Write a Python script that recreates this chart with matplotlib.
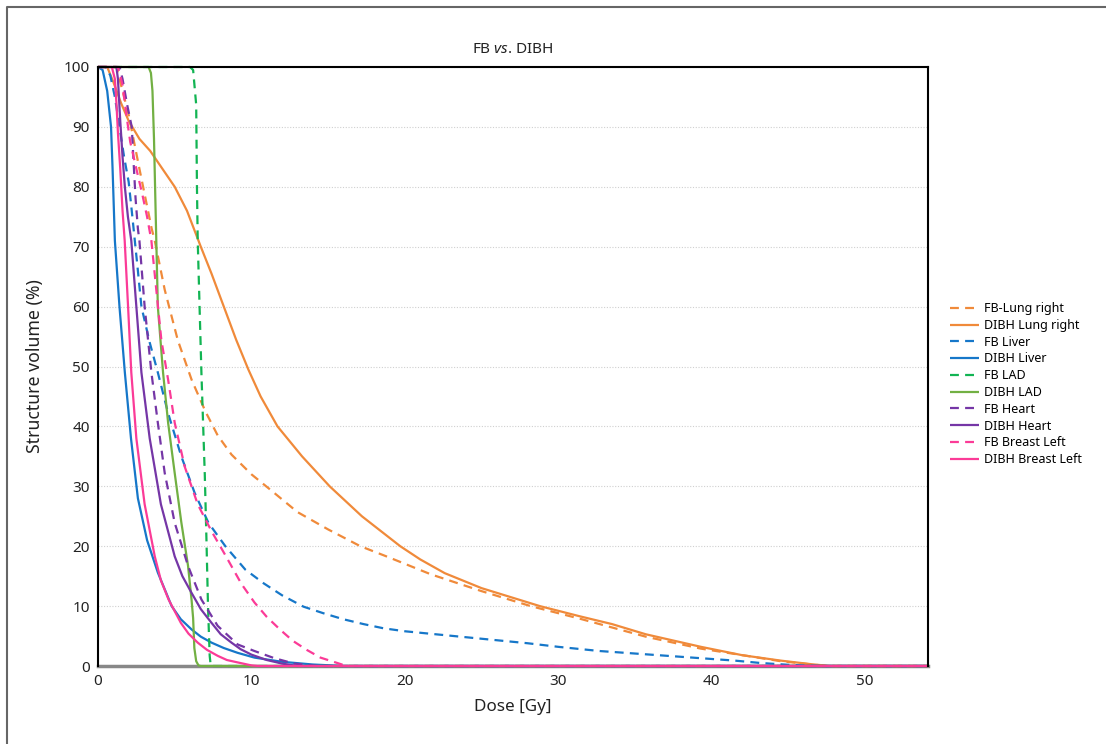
import matplotlib.pyplot as plt
from matplotlib.lines import Line2D
import numpy as np

plt.rcParams['font.family'] = ['Noto Sans', 'DejaVu Sans']
plt.rcParams['mathtext.fontset'] = 'custom'
plt.rcParams['mathtext.it'] = 'Noto Sans:italic'

# dose (Gy) / volume (%) pairs
fb_lung_d = [0, 1.2, 1.6, 2.0, 2.7, 3.1, 3.5, 3.7, 4.35, 5.2, 6.1, 7.0, 7.8, 8.7, 10, 11.2, 13, 15, 17.1, 18.9,
             21.7, 25, 28.2, 31.4, 35.7, 39.3, 44.5, 47.5, 54.1]
fb_lung_v = [100, 100, 96, 92, 83, 78, 73, 71, 62.8, 54.4, 47.8, 42.5, 38.5, 35.3, 32, 29.5, 25.7, 22.8, 20, 18.2,
             15.3, 12.5, 10, 7.9, 4.9, 2.9, 0.8, 0, 0]
dibh_lung_d = [0, 0.6, 1.0, 1.5, 2.0, 2.7, 3.4, 4.2, 5.0, 5.8, 6.7, 7.4, 8.2, 9.0, 9.8, 10.6, 11.7, 13.3, 15.1,
               17.2, 19.7, 21.0, 22.6, 25, 28.8, 31.4, 33.5, 35.7, 39.3, 42, 44.5, 46.5, 47.7, 54.1]
dibh_lung_v = [100, 100, 97.5, 94, 91, 88, 86, 83, 80, 76, 70, 65.5, 60, 54.5, 49.5, 45, 40, 35, 30,
               25, 20, 17.8, 15.5, 13, 10, 8.3, 7, 5.3, 3.2, 1.8, 0.9, 0.3, 0, 0]

fb_liver_d = [0, 0.5, 0.8, 1.1, 1.4, 1.7, 2.0, 2.2, 2.4, 2.6, 2.83, 3.37, 3.9, 4.57, 5.43, 6.3, 7.2, 8.3, 9.6,
              10.8, 12, 13.4, 14.7, 16, 17.3, 18.6, 20, 22, 24, 26, 28, 30, 32.7, 36, 39.3, 41.5,
              43.2, 45, 46.5, 47.5, 54.1]
fb_liver_v = [100, 100, 98.6, 95, 90, 85, 80.8, 76, 71, 66, 60, 54, 49, 42.2, 35, 28.9, 23.9, 20, 16.1,
              13.8, 11.8, 9.9, 8.8, 7.8, 7, 6.3, 5.8, 5.3, 4.8, 4.3, 3.8, 3.2, 2.5, 1.9, 1.3, 0.9,
              0.5, 0.2, 0.05, 0, 0]
dibh_liver_d = [0, 0.3, 0.6, 0.85, 0.95, 1.1, 1.4, 1.75, 2.15, 2.6, 3.2, 3.9, 4.8, 5.4, 6.1, 6.7, 7.4, 8.2, 9.1,
                10.2, 12, 14, 16, 54.1]
dibh_liver_v = [100, 99.5, 96, 90, 83, 71, 60, 49, 38, 28, 21, 15.6, 10, 7.8, 6.1, 4.9, 3.9, 3.0, 2.2,
                1.4, 0.7, 0.25, 0, 0]

fb_lad_d = [0, 6.0, 6.2, 6.4, 6.45, 6.5, 6.74, 6.96, 7.07, 7.17, 7.28, 7.35, 54.1]
fb_lad_v = [100, 100, 99.5, 93.7, 80, 71, 49, 32, 21, 10, 1.7, 0, 0]
dibh_lad_d = [0, 3.3, 3.45, 3.55, 3.65, 3.72, 3.8, 3.9, 4.24, 4.57, 5.0, 5.43, 5.87, 6.1, 6.2, 6.28, 6.4,
              6.55, 6.7, 54.1]
dibh_lad_v = [100, 100, 99, 96, 88, 80, 71, 60, 49, 40.6, 32.2, 24, 16.7, 11, 8, 3, 0.8, 0.1, 0, 0]

fb_heart_d = [0, 1.4, 1.6, 1.9, 2.2, 2.3, 2.45, 2.6, 2.7, 3.04, 3.48, 3.9, 4.35, 5.0, 5.87, 6.74, 7.8, 9.1,
              10.2, 11.5, 12.8, 14.3, 54.1]
fb_heart_v = [100, 100, 98, 93.7, 90, 85, 78, 73, 71, 60, 49, 40.6, 32.2, 23.9, 16.7, 11.1, 6.7, 3.6,
              2.5, 1.3, 0.4, 0, 0]
dibh_heart_d = [0, 1.2, 1.3, 1.45, 1.6, 1.75, 1.95, 2.17, 2.5, 2.83, 3.37, 4.1, 5.0, 5.5, 6.1, 6.7, 7.4, 8.0,
                8.7, 9.3, 10, 11, 12, 13, 54.1]
dibh_heart_v = [100, 100, 98, 91, 85, 80, 75, 71, 60, 49, 38, 27, 18.3, 15, 12.2, 9.5, 7.2, 5.3,
                3.9, 2.8, 1.9, 1.0, 0.4, 0, 0]

fb_breast_d = [0, 1.3, 1.6, 1.85, 2.1, 2.5, 2.9, 3.2, 3.48, 3.8, 4.13, 4.57, 5.0, 5.65, 6.5, 7.4, 8.3, 9.35,
               10.2, 11, 11.9, 12.7, 13.6, 14.5, 15.6, 16.2, 54.1]
fb_breast_v = [100, 100, 97, 92, 87.5, 83, 78.6, 75, 71, 62.8, 54.4, 47.8, 40.6, 33.3, 27, 22.5, 18.5, 13.7,
               10.6, 8.2, 6, 4.2, 2.7, 1.4, 0.5, 0, 0]
dibh_breast_d = [0, 0.9, 1.1, 1.2, 1.3, 1.45, 1.6, 1.74, 1.96, 2.17, 2.5, 3.04, 3.7, 4.1, 4.6, 5.4, 5.9,
                 6.5, 7.1, 7.8, 8.4, 9.1, 10, 10.5, 54.1]
dibh_breast_v = [100, 100, 98, 94, 89, 83, 76, 71, 60, 49, 38, 27, 18.3, 14.3, 11.1, 7.2, 5.4,
                 3.9, 2.7, 1.7, 1.0, 0.6, 0.1, 0, 0]

series = [
    ('FB-Lung right', fb_lung_d, fb_lung_v, '#F08A3A', True),
    ('DIBH Lung right', dibh_lung_d, dibh_lung_v, '#F08A3A', False),
    ('FB Liver', fb_liver_d, fb_liver_v, '#1677C9', True),
    ('DIBH Liver', dibh_liver_d, dibh_liver_v, '#1677C9', False),
    ('FB LAD', fb_lad_d, fb_lad_v, '#12B453', True),
    ('DIBH LAD', dibh_lad_d, dibh_lad_v, '#72B043', False),
    ('FB Heart', fb_heart_d, fb_heart_v, '#7536A6', True),
    ('DIBH Heart', dibh_heart_d, dibh_heart_v, '#7536A6', False),
    ('FB Breast Left', fb_breast_d, fb_breast_v, '#FB3B97', True),
    ('DIBH Breast Left', dibh_breast_d, dibh_breast_v, '#FB3B97', False),
]

fig = plt.figure(figsize=(11.06, 7.44), dpi=100)
ax = fig.add_axes([98 / 1106, 1 - 666 / 744, 830 / 1106, 599 / 744])

for label, d, v, col, dashed in series:
    ls = (0, (4, 2.8)) if dashed else '-'
    ax.plot(d, v, color=col, lw=1.6, ls=ls, label=label, clip_on=False,
            solid_capstyle='butt', dash_capstyle='butt', solid_joinstyle='round')

ax.set_xlim(0, 54.1)
ax.set_ylim(0, 100)
ax.set_xticks(np.arange(0, 51, 10))
ax.set_yticks(np.arange(0, 101, 10))
ax.tick_params(length=0, labelsize=11, pad=6, colors='#222222')
ax.grid(axis='y', ls=(0, (1, 1.5)), color='#d0d0d0', lw=0.8)
ax.set_axisbelow(True)

for s in ['left', 'top', 'right']:
    ax.spines[s].set_color('black')
    ax.spines[s].set_linewidth(1.5)
ax.spines['bottom'].set_color('#888888')
ax.spines['bottom'].set_linewidth(2.5)
ax.spines['bottom'].set_zorder(1)

ax.set_xlabel('Dose [Gy]', fontsize=12.3, labelpad=7, color='#222222')
ax.set_ylabel('Structure volume (%)', fontsize=12.7, color='#222222')
ax.yaxis.set_label_coords((44 - 98) / 830, 0.5)
ax.set_title(r'FB $\it{vs}$. DIBH', fontsize=11, pad=10, color='#222222')

ax.legend(loc='upper left', bbox_to_anchor=(944 / 1106, 1 - 296 / 744),
          bbox_transform=fig.transFigure, frameon=False, fontsize=9,
          handlelength=2.3, handletextpad=0.4, labelspacing=0.3, borderpad=0)

# outer frame (left and top edges)
fig.add_artist(Line2D([7 / 1106, 7 / 1106, 1], [0, 1 - 7 / 744, 1 - 7 / 744],
                      transform=fig.transFigure, color='#666666', lw=1.5))

fig.savefig('out.png', dpi=100)
